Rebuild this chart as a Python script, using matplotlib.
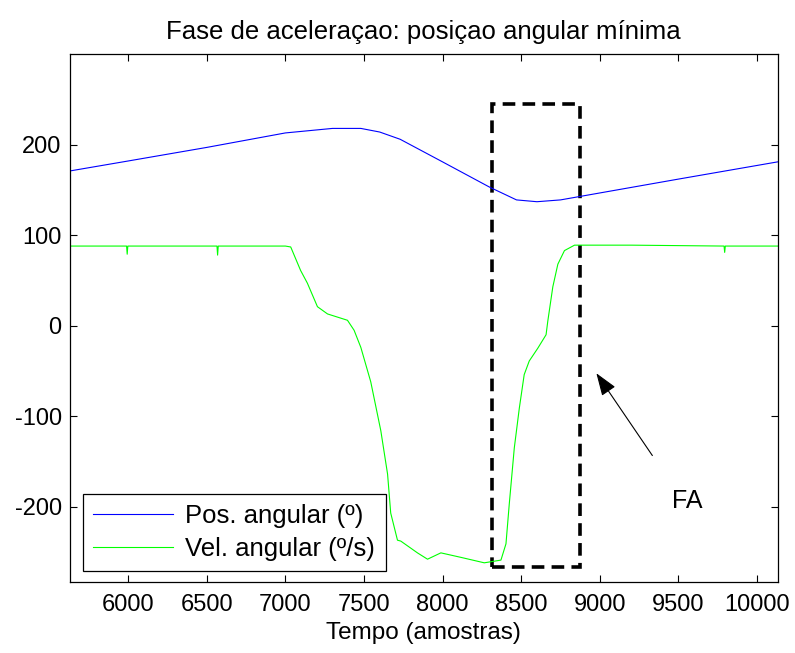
import matplotlib
matplotlib.use("Agg")
import matplotlib.pyplot as plt
from matplotlib.patches import Rectangle

plt.rcParams['font.family'] = ['Liberation Sans', 'DejaVu Sans']
plt.rcParams['axes.unicode_minus'] = False

# angular position (deg)
pos_x = [5630, 6000, 6500, 7000, 7300, 7480, 7600, 7730, 8000, 8300, 8470, 8600, 8750, 8880, 9500, 10130]
pos_y = [171, 182, 197, 213, 218, 218, 214, 206, 181, 153, 139, 137, 139, 143, 162, 181]

# angular velocity (deg/s)
vel_x = [5630, 5990, 5994, 5998, 6565, 6569, 6573, 7000, 7034, 7097, 7140, 7204, 7268, 7395, 7437,
         7480, 7543, 7607, 7650, 7670, 7713, 7734, 7840, 7904, 7989, 8117, 8265, 8371, 8403,
         8424, 8456, 8488, 8519, 8551, 8605, 8658, 8669, 8701, 8733, 8775, 8839, 9200,
         9790, 9794, 9798, 10130]
vel_y = [88, 88, 79, 88, 88, 78, 88, 88, 87, 61, 47, 21, 13, 6, -5,
         -24, -62, -116, -164, -207, -237, -238, -251, -258, -251, -256, -262, -259, -241,
         -197, -135, -91, -54, -39, -25, -10, 5, 43, 68, 83, 89, 89,
         88, 81, 88, 88]

# highlighted region (FA)
box_x0, box_x1 = 8315, 8877
box_y0, box_y1 = -267, 245

fig = plt.figure(figsize=(7.95, 6.53), dpi=100)
ax = fig.add_axes([0.088, 0.109, 0.890, 0.808])

ax.plot(pos_x, pos_y, color='#0000ff', lw=0.8, label='Pos. angular (º)')
ax.plot(vel_x, vel_y, color='#00ff00', lw=0.8, label='Vel. angular (º/s)')

ax.add_patch(Rectangle((box_x0, box_y0), box_x1 - box_x0, box_y1 - box_y0,
                       fill=False, ec='black', lw=2.6, linestyle=(0, (3.5, 2))))

ax.annotate('', xy=(8968, -50), xytext=(9344, -146),
            arrowprops=dict(arrowstyle='-|>,head_length=0.7,head_width=0.25', color='black',
                            lw=0.8, mutation_scale=20))
ax.text(9557, -194, 'FA', fontsize=18, ha='center', va='center')

ax.set_xlim(5630, 10130)
ax.set_ylim(-283, 300)
ax.set_xticks([6000, 6500, 7000, 7500, 8000, 8500, 9000, 9500, 10000])
ax.set_yticks([-200, -100, 0, 100, 200])
ax.tick_params(direction='in', top=True, right=True, length=5, labelsize=17, width=0.8)
ax.tick_params(axis='x', pad=9)
ax.tick_params(axis='y', pad=6)
for s in ax.spines.values():
    s.set_linewidth(0.9)

ax.set_title('Fase de aceleraçao: posiçao angular mínima', fontsize=18.5, pad=11)
ax.set_xlabel('Tempo (amostras)', fontsize=17.5, labelpad=4)

leg = ax.legend(loc='lower left', bbox_to_anchor=(0.018, 0.02), fontsize=18.5,
                handlelength=3.1, fancybox=False, framealpha=1, borderaxespad=0,
                edgecolor='black', borderpad=0.4, labelspacing=0.35, handletextpad=0.5)
leg.get_frame().set_linewidth(0.9)

fig.savefig('out.png', dpi=100)
